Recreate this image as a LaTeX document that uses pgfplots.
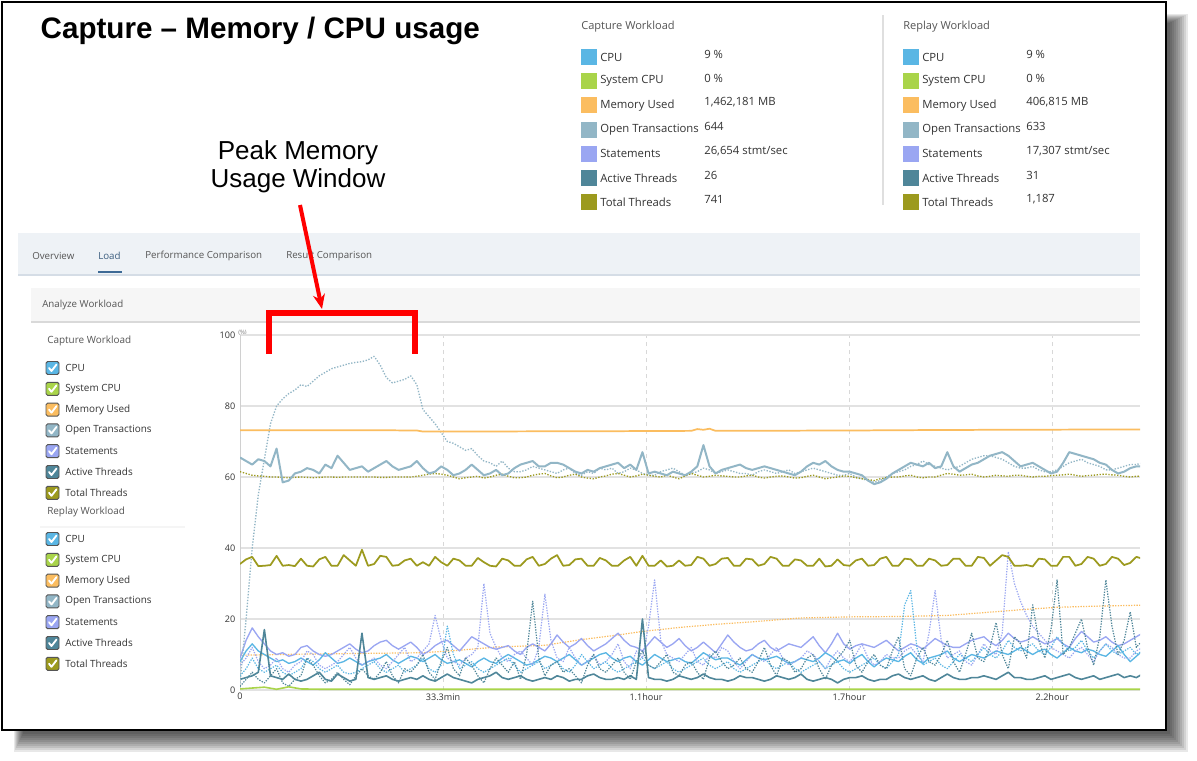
\documentclass[border=0pt]{standalone}
\usepackage{fontspec}
\setmainfont{Open Sans}
\newfontfamily\arial{Liberation Sans}
\usepackage{pgfplots}
\pgfplotsset{compat=1.18}
\usepackage{pgfplotstable}
\usetikzlibrary{arrows.meta}

\definecolor{cpu}{HTML}{5AB6E4}
\definecolor{syscpu}{HTML}{A9D44A}
\definecolor{mem}{HTML}{FBBD60}
\definecolor{otr}{HTML}{92B6C6}
\definecolor{stm}{HTML}{9AA6F2}
\definecolor{act}{HTML}{4F8699}
\definecolor{tot}{HTML}{9C9A1E}
\definecolor{txt}{HTML}{333333}
\definecolor{hdr}{HTML}{555555}
\definecolor{tabbg}{HTML}{EEF2F6}
\definecolor{tabline}{HTML}{D5DDE6}
\definecolor{loadtxt}{HTML}{3D5F80}
\definecolor{loadline}{HTML}{3D6A96}
\definecolor{panel}{HTML}{F6F6F6}
\definecolor{panelline}{HTML}{D9D9D9}
\definecolor{xgrid}{HTML}{D8D8D8}
\definecolor{ygrid}{HTML}{E2E2E2}
\definecolor{axline}{HTML}{D0D0D0}

% t in minutes; otc/otr open transactions, ttc/ttr total threads,
% cpuc/cpur cpu, stc/str statements, atc/atr active threads (c = capture, r = replay)
\pgfplotstableread{
t   otc  otr  ttc  ttr  cpuc cpur stc  str atc atr
0   65.5 2    35.5 61.5 8    4    9    7   3   1
1   64.5 20   36.8 61   11   6    14   9   3.5 3
2   63.5 40   37.5 60.5 13   9    17.5 12  4   5
3   65   55   34.9 60.3 11   6    15   8   5   3
4   64.5 65   35   60.2 10   5    13   6   17  2
5   63   75   35.2 60   9    6    11   7   4   4
6   68   80   37.8 60   8    7    10   9   3.5 6
7   58.5 82   35   59.9 8.5  5    10.5 6   3   2
8   59   83.5 35.2 59.8 7.5  4    9.5  5   4.5 1
9   61   84.5 34.9 59.9 8    5    10   7   3   3
10  61.5 86   37   60   9    6    12   8   2.5 4
11  62.5 85.5 35   59.9 8    9    12.5 11  3   9
12  62   87   34.8 59.8 7    8    11   10  4   7
13  61   88.5 36.8 59.9 8.5  6    10   7   5   4
14  63.5 89.5 37.5 60   10.5 5    9.5  6   3   2
15  62.5 90.5 35   60   9    6    10   7   2.5 3
16  66   91   35   59.9 7.5  7    11   8   4.5 5
17  64   91.5 38   60   8    5    12   10  3.5 3
18  62   92   36.5 60   9    4.5  13   12  2.5 1.5
19  62.5 92.3 35   60   8    5    11.5 9   3   4
20  63   92.5 39.5 60   7    6    10.5 7   16  6
21  61.5 93   35   60   8    7    11   8   3.5 4
22  62.5 94   35.5 60   8.5  8    12.5 9   3   3
23  63.5 91.5 37.8 59.9 9    6    13.5 7   3.5 5
24  64.5 88   37.5 59.9 10   5    14   6   4   8
25  63   86.5 35   60   8.5  6    12.5 8   3   4
26  62   87   35.2 60   7.5  7    11.5 10  2.5 2
27  62.5 87.5 36.5 60   8.5  5    12.5 12  3   6
28  63   88.5 37   60   9.5  6    13.5 8   3.5 5
29  64.5 86   35   60.2 9    7    12   9   3   7
30  62.5 79   36   60.5 8    9    10   11  4   10
31  61   77   35   60.8 9    6    11   13  3   5
32  61.5 75   37.5 61   10   5    12.5 21  2.5 3
33  63   72.5 36   60.8 8.5  7    13.5 14  3.5 8
34  62   70   35   60.5 7.5  18   14   9   4.5 12
35  60.5 69.5 37   60   8    10   12.5 8   3.5 6
36  61   68.5 36.5 59.5 8.5  6    11   7   3   4
37  62   67.5 35   59.8 7.5  7    13   9   2.5 9
38  63.5 68   35   60   6.5  8    15   10  2   7
39  62   66   37.2 60.2 8    6    14   12  3   4
40  60.5 64.5 36   59.7 9    5    13   30  3.5 2
41  61   64   35   60   8    6    12   16  4   6
42  62   63   34.8 60.5 7.5  7    11.5 12  5   9
43  60.5 64.5 37   60.8 9    8    12   9   3.5 7
44  61   62.5 36.5 60.2 10   9    12.5 8   3   5
45  62.5 61.5 35   59.8 9    7    11   10  3.5 8
46  63.5 61.5 35   59.8 8    5    10   11  4   3
47  64   62   36.8 60   7    6    12   9   3   10
48  64.5 63   37.5 60.5 7.5  7    13   7   2.5 25
49  63   62.5 35   60.8 8.5  8    12   12  3   9
50  63   62   35.5 61   9.5  6    11   27  3.5 4
51  64   61.5 37   60.3 9    7    13   14  3   7
52  64   61   38   59.8 8    8    15.5 9   4   8
53  63.5 62   35   60   9    6    13.5 8   3.5 5
54  62.5 62.5 35.2 60.5 10   5    12   12  2.5 6
55  61.5 61   36.8 60.8 8.5  7    13   9   3   4
56  61   60.5 37   60   7    10   14.5 7   3   2
57  62   61.5 35   59.7 8    8    12.5 8   4   7
58  61.5 61   35   59.5 9    6    11   10  4.5 10
59  62.5 62.5 37.2 60   10   7    12   7   3.5 6
60  63   62   36.5 60.3 10.5 8    13   8   3   5
61  63.5 62.5 35   60.8 9    6    14.5 10  3   7
62  64   61   35   61   8    5    16   13  3.5 9
63  62.5 61.5 36.5 60.5 9    6    14   8   3   5
64  63.5 62.5 37.5 60   9.5  7    12.5 6   4   3
65  62   62   35   60.3 8    8    12   11  3   8
66  67   61   37.8 60.8 7    9    11   9   20  11
67  61   60.5 35   60.5 8.5  7    13   18  3.5 7
68  61.5 60.5 35   60.2 10   6    15   31  3   6
69  61   61.5 36.5 60   9    7    13.5 14  3   8
70  60.5 62   34.8 60.5 8    8    12   10  2.5 10
71  61.5 62.5 35   60   8.5  6    13   9   3   5
72  61   61.5 36.5 59.5 9    5    14.5 8   4   4
73  60.5 60.5 35   60.3 8    6    12.5 10  3.5 7
74  61.5 61   35.2 61   7.5  7    11   12  3   8
75  63   61.5 37.5 60.5 9    8    12   8   3.5 5
76  69   62.5 37   60   10.5 9    13.5 7   4.5 3
77  63   62   35   60.2 9.5  7    12   10  3.5 9
78  61   61   35.5 60.5 8.5  6    10.5 9   3   11
79  62   61.5 37   60.3 9    7    13   12  3   8
80  62.5 62   37.2 60.2 9    8    15.5 11  2.5 6
81  63   61.5 35   60   8    6    13.5 8   3   7
82  63.5 61   35   60   7    5    12   6   4   9
83  62.5 61   37   60.3 8.5  6    11   8   3.5 6
84  62   60.5 36.8 60.5 10   7    11.5 10  3.5 5
85  62.5 61.5 35   60   9    8    13   9   3   8
86  63   62   35.5 59.7 8.5  9    14   8   2.5 12
87  62.5 61.5 37.5 60   9    7    12   10  3   7
88  62   61   37   60.2 9.5  6    11   12  4   4
89  61.5 61.5 35   60.3 8.5  7    12   9   3.5 9
90  61   62   35   60   7.5  8    13   7   3   8
91  60.5 61   36.8 59.7 8    6    12.5 8   3.5 5
92  61.5 61.5 36.5 59.8 9    5    12   9   4.5 6
93  63   62   35   60.2 8.5  6    13.5 11  3   9
94  64   62.5 35   60.5 8    7    15   10  2.5 10
95  63.5 62   37   60   9    8    12.5 8   3   6
96  64.5 61.5 34.8 59.5 10.5 6    10.5 6   3.5 3
97  63   61   35   59.8 9.5  7    13   9   3   7
98  62   60.5 36.8 60   8    8    16   11  2   9
99  61.5 60.5 35.2 60.3 8.5  6    13   9   3   11
100 61.5 61   35   60.2 7.5  5    11.5 8   3.5 14
101 61   60   36.5 59.8 9    6    12.5 10  3.5 7
102 60.5 59.5 37   59.5 10   7    13   13  4   5
103 59   59   35   59.3 8    8    12.5 9   3   8
104 58   58.5 35.2 59   6.5  9    12   7   2.5 10
105 58.5 59   37   59.5 8    7    13   8   3   7
106 59.5 60   37.5 59.8 9    6    14   10  3   6
107 61   61   35   60   8.5  8    12.5 9   4   11
108 62   61.5 35   60   8    10   11   9   4.5 15
109 63   62   37   60.3 9.5  24   12   11  3.5 6
110 64   63   36.8 60.5 10.5 28   13   12  3   4
111 63.5 63.5 35   60   8.5  12   12.5 10  3.5 9
112 63   64.5 35   59.8 7.5  7    11.5 8   4   12
113 64   63.5 37   60   9    8    13   16  3   8
114 62.5 63   36.5 60   9.5  9    14.5 28  2.5 7
115 63   62.5 35   60.5 10   7    13.5 14  3.5 10
116 67   62   35.2 61   11   6    12.5 9   4.5 14
117 63   62.5 37   60.8 9    8    12   10  3.5 8
118 61.5 63   37   60.5 8    10   12   11  3   5
119 62.5 64   35   60.6 9    9    13   8   3   10
120 63.5 65   35   60.8 10   8    14   7   3.5 16
121 64   65.5 37.5 60.3 9.5  10   14.5 10  3.5 9
122 65   66   37.2 60   9    12   15   13  4   8
123 66   66   35   60.2 10   10   13.5 11  3.5 12
124 66.5 65.5 36.5 60.5 11   9    12.5 10  3   19
125 67   65   38   60.3 10.5 11   14   16  4   10
126 66   64   37.5 60.2 10   14   16   39  5   6
127 64.5 63   35   60.5 11   12   14.5 30  3.5 15
128 63   62.5 35   60.5 12   11   13.5 25  3.5 13
129 63.5 62.5 35.2 60.2 11   12   14   21  3   9
130 64   63   34.8 60   10   13   15   18  3   24
131 63   62   37   60.2 11   11   14   16  3.5 14
132 62   61.5 36.8 60.2 11.5 10   13   14  4   9
133 61   61.5 35   60.4 10   12   13.5 12  3   17
134 61.5 62   35   60.5 9    15   14.5 11  3.5 31
135 64   63   37.5 60.6 10.5 13   13   10  4   10
136 67   64   37.5 60.8 12   11   12   9   4.5 12
137 66.5 64.5 35   60.5 11   12   14.5 11  3.5 16
138 66   65   35.5 60.2 10.5 14   16.5 12  3   20
139 65.5 64   37.5 60.4 11.5 11   15   10  3.5 12
140 65   63.5 37   60.5 11   9    13.5 8   4   7
141 64   63   35   60.7 10   11   14   11  3   15
142 63.5 62   35.5 60.8 9.5  13   15   13  3.5 31
143 62   62   37.5 60.6 11   11   13.5 12  4   18
144 61   62.5 37   60.5 12.5 10   12.5 10  4.5 10
145 61.5 63   35.2 60.2 10   11   13   9   3.5 14
146 62.5 63.5 35.8 60   8    12   14   9   4   22
147 63   63.5 37.5 60.2 9.5  10   15   11  3.5 12
148 63   64   37   60.3 11   11   16   12  4.5 14
}\load

\newcommand{\chk}[3]{%
  \draw[rounded corners=1.2, fill=#3, draw=hdr, line width=0.7] (#1,#2-6.5) rectangle (#1+13,#2+6.5);
  \draw[white, line width=1.4, line cap=round, line join=round] (#1+3,#2) -- (#1+5.5,#2+3) -- (#1+10.5,#2-3.5);
}

\begin{document}
\begin{tikzpicture}
\begin{scope}[x=0.75pt, y=-0.75pt]
  \fill[white] (0,0) rectangle (1197,761);
  % drop shadow and frame
  \foreach \k in {0,...,9}
    \fill[black, opacity=0.09] (14+\k,14+\k) rectangle (1188-2*\k,752-2*\k);
  \fill[white] (2,2) rectangle (1166,730);
  \draw[black, line width=1.6] (2,2) rectangle (1166,730);

  % title
  \node[anchor=west, font=\arial\bfseries\fontsize{22.2}{26}\selectfont] at (36,31) {Capture – Memory / CPU usage};

  % top legends
  \draw[gray!25, line width=1] (883,15) -- (883,205);
  \foreach \x/\h in {581/Capture Workload, 903/Replay Workload}
    \node[anchor=west, text=hdr, font=\fontsize{8.3}{9}\selectfont, inner sep=0] at (\x,27) {\h};
  \foreach \c/\n/\v [count=\i from 0] in {cpu/CPU/{9 \%}, syscpu/System CPU/{0 \%}, mem/Memory Used/{1,462,181 MB}, otr/Open Transactions/{644}, stm/Statements/{26,654 stmt/sec}, act/Active Threads/{26}, tot/Total Threads/{741}} {
    \fill[\c] (581,57+24.2*\i-8) rectangle ++(16,16);
    \node[anchor=west, text=txt, font=\fontsize{8.5}{9}\selectfont, inner sep=0] at (600,57+24.2*\i) {\n};
    \node[anchor=west, text=txt, font=\fontsize{8.5}{9}\selectfont, inner sep=0] at (704,54+24.2*\i) {\v};
  }
  \foreach \c/\n/\v [count=\i from 0] in {cpu/CPU/{9 \%}, syscpu/System CPU/{0 \%}, mem/Memory Used/{406,815 MB}, otr/Open Transactions/{633}, stm/Statements/{17,307 stmt/sec}, act/Active Threads/{31}, tot/Total Threads/{1,187}} {
    \fill[\c] (903,57+24.2*\i-8) rectangle ++(16,16);
    \node[anchor=west, text=txt, font=\fontsize{8.5}{9}\selectfont, inner sep=0] at (922,57+24.2*\i) {\n};
    \node[anchor=west, text=txt, font=\fontsize{8.5}{9}\selectfont, inner sep=0] at (1026,54+24.2*\i) {\v};
  }

  % tabs
  \fill[tabbg] (18,233) rectangle (1140,275);
  \draw[tabline, line width=0.8] (18,275) -- (1140,275);
  \foreach \x/\t in {32/Overview, 145/Performance Comparison, 286/Result Comparison}
    \node[anchor=west, text=hdr, font=\fontsize{7.3}{9}\selectfont, inner sep=0] at (\x,256) {\t};
  \node[anchor=west, text=loadtxt, font=\fontsize{7.3}{9}\selectfont, inner sep=0] at (98,256) {Load};
  \draw[loadline, line width=1.6] (98,272) -- (122,272);

  % analyze workload panel
  \fill[panel] (31,288) rectangle (1140,322);
  \draw[panelline, line width=0.8] (31,322) -- (1140,322);
  \node[anchor=west, text=hdr, font=\fontsize{7.3}{9}\selectfont, inner sep=0] at (42,305) {Analyze Workload};

  % side legend
  \node[anchor=west, text=hdr, font=\fontsize{7.45}{9}\selectfont, inner sep=0] at (47,341) {Capture Workload};
  \node[anchor=west, text=hdr, font=\fontsize{7.45}{9}\selectfont, inner sep=0] at (47,512) {Replay Workload};
  \draw[gray!8, line width=0.8] (40,527) -- (185,527);
  \foreach \yb in {368,539} {
    \foreach \c/\n [count=\i from 0] in {cpu/CPU, syscpu/System CPU, mem/Memory Used, otr/Open Transactions, stm/Statements, act/Active Threads, tot/Total Threads} {
      \chk{46}{\yb+20.8*\i}{\c}
      \node[anchor=west, text=txt, font=\fontsize{7.45}{9}\selectfont, inner sep=0] at (65,\yb+20.8*\i) {\n};
    }
  }
  \node[anchor=west, text=gray, font=\fontsize{4.5}{5}\selectfont, inner sep=0] at (238,333) {(\%)};
\end{scope}

\begin{axis}[
  at={(180pt,-517.5pt)}, anchor=south west,
  scale only axis, width=675pt, height=266.25pt,
  xmin=0, xmax=147.6, ymin=0, ymax=100,
  axis line style={draw=none},
  ytick={0,20,...,100},
  xtick={0,33.3,66.6,99.9,133.2},
  xticklabels={0,33.3min,1.1hour,1.7hour,2.2hour},
  major tick length=0pt,
  xmajorgrids, ymajorgrids,
  x grid style={xgrid, dashed, line width=0.6pt},
  y grid style={ygrid, line width=0.8pt},
  tick label style={font=\fontsize{6.8}{8}\selectfont, text=txt},
  xticklabel style={yshift=1pt},
  /pgf/number format/assume math mode=true,
  every axis plot/.append style={line join=round},
]
\draw[axline, line width=0.8pt] (axis cs:0,0) -- (axis cs:0,100);
\addplot[mem, line width=0.9pt, dash pattern=on 1pt off 1pt] coordinates {
(0,9.8)(10,10.1)(20,10.3)(30,10.5)(36,11.2)(42,12.1)(50,12.6)(56,14.2)(62,15.5)
(66,16.5)(72,17.6)(78,18.5)(84,19.2)(92,20.3)(100,20.6)(108,20.7)(116,21.0)
(122,21.8)(128,22.6)(134,23.3)(140,23.6)(148,23.9)};
\addplot[stm, line width=1pt] table[x=t, y=stc] {\load};
\addplot[cpu, line width=1pt] table[x=t, y=cpuc] {\load};
\addplot[stm, line width=0.9pt, dash pattern=on 1pt off 1pt] table[x=t, y=str] {\load};
\addplot[cpu, line width=0.9pt, dash pattern=on 1pt off 1pt] table[x=t, y=cpur] {\load};
\addplot[act, line width=0.9pt, dash pattern=on 1pt off 1pt] table[x=t, y=atr] {\load};
\addplot[act, line width=1.2pt] table[x=t, y=atc] {\load};
\addplot[otr, line width=1pt, dash pattern=on 1pt off 1.2pt] table[x=t, y=otr] {\load};
\addplot[tot, line width=1pt, dash pattern=on 1pt off 1.2pt] table[x=t, y=ttr] {\load};
\addplot[tot, line width=1.3pt] table[x=t, y=ttc] {\load};
\addplot[otr, line width=1.5pt] table[x=t, y=otc] {\load};
\addplot[mem, line width=1.3pt] coordinates {
(0,73.2)(20,73.2)(29,73.1)(30,72.8)(60,72.9)(74,73.0)(75,73.5)(76,73.3)(77,73.6)(78,73.0)
(100,73.1)(110,73.2)(124,73.3)(148,73.4)};
\addplot[syscpu, line width=1.2pt] coordinates {(0,0.3)(4,0.8)(6,0.2)(8,0.9)(10,0.3)(14,0.2)(148,0.2)};
\end{axis}

\begin{scope}[x=0.75pt, y=-0.75pt]
  % annotation
  \node[align=center, font=\arial\fontsize{19.5}{21}\selectfont] at (298,167) {Peak Memory\\Usage Window};
  \draw[red, line width=3pt, -{Stealth[length=11pt, width=9pt]}] (300,205) -- (322,309);
  \draw[red, line width=5pt, line cap=butt, line join=miter] (269,354) -- (269,313) -- (415,313) -- (415,354);
\end{scope}
\end{tikzpicture}
\end{document}
